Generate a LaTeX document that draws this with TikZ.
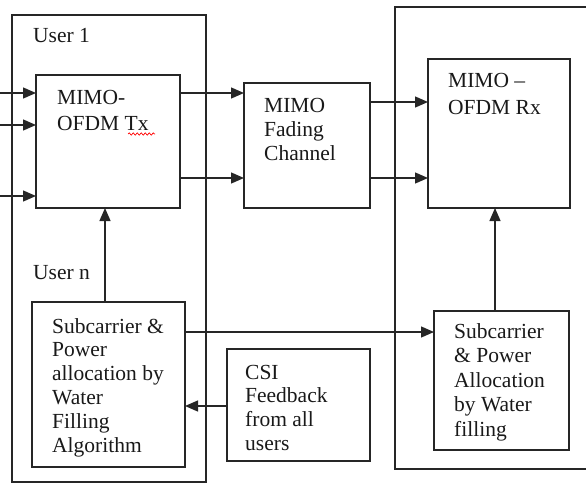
\documentclass[tikz,border=0pt]{standalone}
\usepackage{fontspec}
\setmainfont{Liberation Serif}
\usetikzlibrary{arrows.meta,decorations.pathmorphing}
\newcommand\mytxt[2]{\fontsize{21.5}{#1}\selectfont\begin{tabular}[t]{@{}l@{}}#2\end{tabular}}
\begin{document}
\begin{tikzpicture}[x=1pt,y=-1pt,
  box/.style={draw=black!85,line width=1.3pt,inner sep=0pt,outer sep=0pt,rectangle},
  lbl/.style={anchor=base west,inner sep=0pt,text=black!90},
  arr/.style={draw=black!85,line width=1.3pt,-{Triangle[length=13pt,width=11pt]}},
  ln/.style={draw=black!85,line width=1.3pt}]
\useasboundingbox (0,0) rectangle (586,487);
% outer user boxes
\node[box,minimum width=194pt,minimum height=467pt] (outer1) at (109,248.5) {};
\draw[ln] (587,7) -- (395,7) -- (395,469) -- (587,469);
% blocks
\node[box,minimum width=144pt,minimum height=133pt] (tx) at (108,141.5) {};
\node[box,minimum width=126pt,minimum height=125pt] (ch) at (307,145.5) {};
\node[box,minimum width=142pt,minimum height=149pt] (rx) at (499,133.5) {};
\node[box,minimum width=153pt,minimum height=165pt] (sub1) at (108.5,384.5) {};
\node[box,minimum width=135pt,minimum height=139pt] (sub2) at (501.5,380.5) {};
\node[box,minimum width=143pt,minimum height=112pt] (csi) at (298.5,405) {};
% labels
\node[lbl] (u1) at (33,43) {\mytxt{24}{User 1}};
\node[lbl] (un) at (33,279) {\mytxt{24}{User n}};
\node[lbl] (txt) at (57,104) {\mytxt{26.5}{MIMO-\\OFDM Tx}};
\node[lbl] (cht) at (264,112) {\mytxt{24}{MIMO\\Fading\\Channel}};
\node[lbl] (rxt) at (448,87) {\mytxt{27}{MIMO –\\OFDM Rx}};
\node[lbl] (s1t) at (52,333) {\mytxt{23.8}{Subcarrier \&\\Power\\allocation by\\Water\\Filling\\Algorithm}};
\node[lbl] (s2t) at (454,338) {\mytxt{24.5}{Subcarrier\\\& Power\\Allocation\\by Water\\filling}};
\node[lbl] (csit) at (245,379) {\mytxt{23.7}{CSI\\Feedback\\from all\\users}};
\draw[red,line width=0.7pt,decorate,decoration={snake,amplitude=1.2pt,segment length=4pt}] (128,134) -- (155,134);
% level coordinates
\coordinate (in1) at (0,93);
\coordinate (in2) at (0,125);
\coordinate (in3) at (0,196);
\coordinate (y93) at (0,93);
\coordinate (y178) at (0,178);
\coordinate (y102) at (0,102);
\coordinate (y332) at (0,332);
\coordinate (y406) at (0,406);
\coordinate (x105) at (105,0);
\coordinate (x495) at (495,0);
% connectors
\draw[arr] (in1) -- (in1 -| tx.west);
\draw[arr] (in2) -- (in2 -| tx.west);
\draw[arr] (in3) -- (in3 -| tx.west);
\draw[arr] (tx.east |- y93) -- (ch.west |- y93);
\draw[arr] (tx.east |- y178) -- (ch.west |- y178);
\draw[arr] (ch.east |- y102) -- (rx.west |- y102);
\draw[arr] (ch.east |- y178) -- (rx.west |- y178);
\draw[arr] (sub1.north -| x105) -- (tx.south -| x105);
\draw[arr] (sub2.north -| x495) -- (rx.south -| x495);
\draw[arr] (sub1.east |- y332) -- (sub2.west |- y332);
\draw[arr] (csi.west |- y406) -- (sub1.east |- y406);
\end{tikzpicture}
\end{document}
